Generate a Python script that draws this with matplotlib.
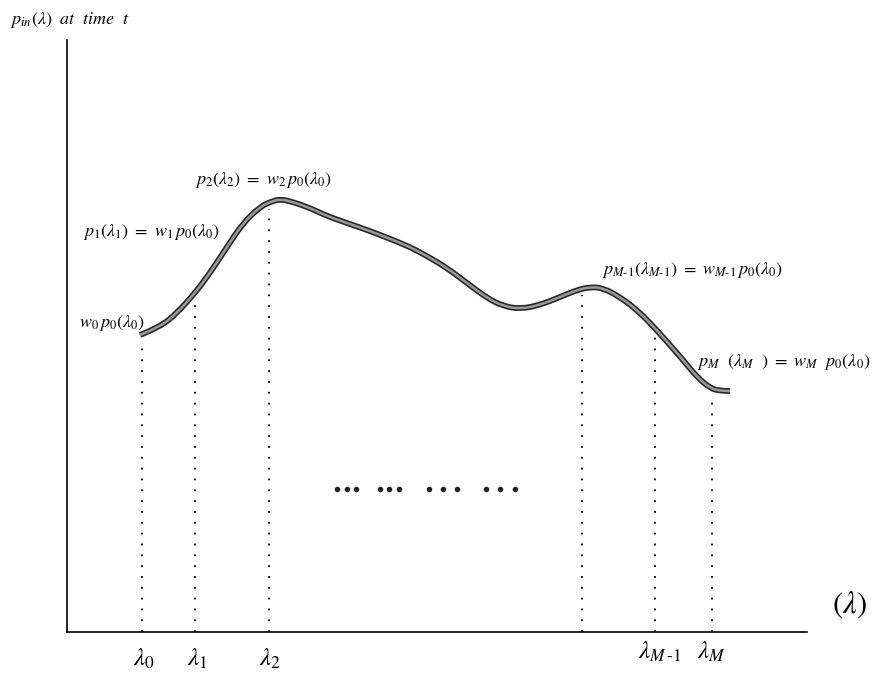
"""
Schema: distribution p_in(lambda) a l'instant t, echantillonnee en lambda_0 ... lambda_M
"""
import matplotlib
matplotlib.use('Agg')
import matplotlib.pyplot as plt
import matplotlib.patheffects as pe
from matplotlib.path import Path
from matplotlib.patches import PathPatch
import numpy as np

plt.rcParams['mathtext.fontset'] = 'stix'
plt.rcParams['font.family'] = ['STIXGeneral', 'DejaVu Serif']

# Courbe (x = longueur d'onde, y = intensite)
curve_x = [73, 93, 110, 128, 143, 160, 176, 193, 203, 213, 226, 243, 260, 280,
           303, 326, 343, 360, 380, 400, 420, 436, 453, 473, 493, 510, 523, 536,
           553, 570, 586, 603, 616, 630, 643, 653, 663]
curve_y = [297, 305, 319, 339, 359, 385, 409, 425, 430, 433, 430, 424, 416, 409,
           401, 392, 385, 376, 364, 349, 334, 326, 323, 327, 335, 342, 345, 344,
           335, 322, 306, 287, 272, 255, 244, 241, 241]

# Positions des echantillons (lignes pointillees)
sample_x = [75, 128, 202, 515, 588, 645]

# Etiquettes sous l'axe
tick_x = [77, 130, 203, 593, 645]
tick_y = [-28, -28, -28, -21, -21]
tick_labels = [r'$\lambda_0$', r'$\lambda_1$', r'$\lambda_2$',
               r'$\lambda_{M\,\text{-}1}$', r'$\lambda_M$']

# Points de suspension
dots_x = [270, 280, 289, 313, 322, 332, 362, 376, 390, 419, 433, 448]
dots_y = [143] * len(dots_x)

# Annotations de la courbe
notes = [r'$p_2(\lambda_2)\ =\ w_2\, p_0(\lambda_0)$',
         r'$p_1(\lambda_1)\ =\ w_1\, p_0(\lambda_0)$',
         r'$w_0\, p_0(\lambda_0)$',
         r'$p_{M\text{-}1}(\lambda_{M\text{-}1})\ =\ w_{M\text{-}1}\, p_0(\lambda_0)$',
         r'$p_M\ \ (\lambda_M\ \ )\ =\ w_M\ \ p_0(\lambda_0)$']
notes_x = [128, 16, 12, 535, 630]
notes_y = [452, 400, 309, 362, 270]

fig = plt.figure(figsize=(8.95, 6.78), dpi=100)
ax = fig.add_axes([67 / 895, 46 / 678, 740 / 895, 592 / 678])
ax.set_xlim(0, 740)
ax.set_ylim(0, 592)

# Axes: seulement gauche et bas
for side in ['top', 'right']:
    ax.spines[side].set_visible(False)
for side in ['left', 'bottom']:
    ax.spines[side].set_linewidth(1.2)
    ax.spines[side].set_color('black')
ax.set_xticks([])
ax.set_yticks([])

# Courbe lissee: les points lus servent de points de controle (Bezier quadratique)
pts = np.column_stack([curve_x, curve_y]).astype(float)
verts = [pts[0]]
codes = [Path.MOVETO]
for i in range(1, len(pts) - 1):
    mid = (pts[i] + pts[i + 1]) / 2 if i < len(pts) - 2 else pts[i + 1]
    verts += [pts[i], mid]
    codes += [Path.CURVE3, Path.CURVE3]
patch = PathPatch(Path(verts, codes), facecolor='none', edgecolor='#9a9a9a',
                  linewidth=1.8, capstyle='butt',
                  path_effects=[pe.Stroke(linewidth=4.2, foreground='#2a2a2a'), pe.Normal()])
ax.add_patch(patch)

# Lignes pointillees de la courbe jusqu'a l'axe
tops = np.interp(sample_x, curve_x, curve_y) - 6
for x, top in zip(sample_x, tops):
    ax.plot([x, x], [0, top], color='black', linewidth=1.3,
            linestyle=(0, (1, 5)))

ax.scatter(dots_x, dots_y, s=9, color='#222222', zorder=3)

for txt, x, y in zip(notes, notes_x, notes_y):
    ax.text(x, y, txt, fontsize=13, ha='left', va='center', clip_on=False)

for txt, x, y in zip(tick_labels, tick_x, tick_y):
    ax.text(x, y, txt, fontsize=18, ha='center', va='center', clip_on=False)

ax.text(782, 27, r'$(\lambda)$', fontsize=22, ha='center', va='center', clip_on=False)
fig.text(10 / 895, 1 - 20 / 678, r'$p_{in}(\lambda)\ \ at\ \ time\ \ t$',
         fontsize=13, ha='left', va='center')

plt.savefig('out.png', dpi=100)
